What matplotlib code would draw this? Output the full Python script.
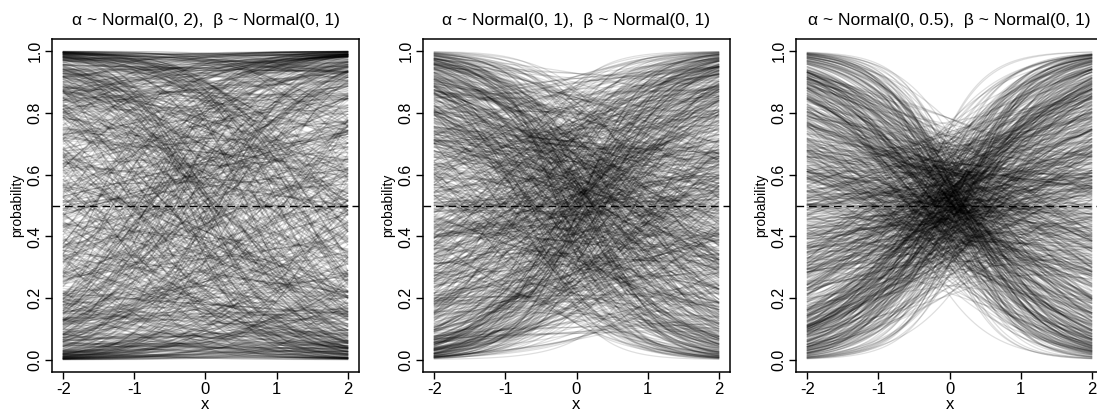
import numpy as np
import matplotlib
matplotlib.use("Agg")
import matplotlib.pyplot as plt

plt.rcParams['font.family'] = ['Liberation Sans', 'DejaVu Sans']

# prior scales per panel
alpha_sd = [2, 1, 0.5]
beta_sd = [1, 1, 1]
titles = [r"α ~ Normal(0, 2),  β ~ Normal(0, 1)",
          r"α ~ Normal(0, 1),  β ~ Normal(0, 1)",
          r"α ~ Normal(0, 0.5),  β ~ Normal(0, 1)"]

# standardised prior draws (typical values, shared by the panels)
z_alpha = [
    0.63, -1.21, 0.18, 1.94, -0.45, -0.07, 0.88, -1.67, 0.32, 1.12, -0.79, 0.05, -2.31, 0.71, -0.26,
    1.45, -0.58, 0.94, -0.13, -1.03, 0.41, 2.17, -0.36, 0.22, -1.48, 0.66, -0.91, 1.28, 0.09, -0.54,
    -0.19, 1.73, -1.12, 0.47, -0.02, 0.83, -1.86, 0.29, 1.06, -0.67, 0.14, -0.41, 2.56, -0.84, 0.57,
    0.36, -1.34, 0.02, 1.51, -0.23, -0.72, 0.99, -1.59, 0.26, -0.11, 1.18, -0.49, 0.77, -2.02, 0.44,
    -0.31, 0.61, -0.96, 1.37, -0.05, 0.19, -1.27, 0.87, -0.63, 0.12, 1.82, -0.38, -0.15, 1.01, -1.74,
    0.53, -0.87, 0.24, -0.28, 1.62, -1.09, 0.38, 0.07, -0.52, 2.34, -0.69, 0.16, -1.41, 0.92, -0.09,
    1.23, -0.33, 0.58, -1.97, 0.31, -0.76, 0.03, 1.09, -0.44, 0.69, -1.15, 0.46, -0.21, 1.56, -0.61,
    -0.04, 0.81, -1.53, 0.27, -0.93, 1.31, 0.11, -0.37, 0.74, -2.66, 0.35, -0.17, 1.14, -0.82, 0.49,
    0.21, -1.06, 0.64, -0.25, 1.69, -0.56, 0.08, -1.31, 0.97, -0.12, 0.42, -0.74, 2.08, -0.47, 0.15,
    -0.65, 1.04, -0.29, 0.55, -1.62, 0.33, -0.01, 0.86, -1.19, 0.23, 1.42, -0.89, 0.06, -0.35, 0.78,
]
z_beta = [
    -0.42, 1.16, -0.08, 0.73, -1.55, 0.27, -0.94, 1.88, 0.04, -0.61, 0.39, -1.23, 0.95, -0.18, 2.21,
    0.58, -0.33, -1.71, 0.13, 1.07, -0.52, 0.84, -2.14, 0.31, -0.06, 1.39, -0.77, 0.19, -1.02, 0.66,
    1.52, -0.27, 0.44, -0.86, 0.01, -1.38, 0.97, 0.23, -0.49, 1.79, -0.14, 0.62, -1.93, 0.37, -0.71,
    -0.11, 0.89, -1.44, 0.52, 2.43, -0.39, 0.16, -0.81, 1.24, -0.23, 0.47, -1.14, 0.08, 0.76, -1.66,
    0.34, -0.58, 1.61, -0.03, -0.97, 0.69, -0.31, 1.33, -1.28, 0.12, -0.45, 0.91, -2.37, 0.28, 1.11,
    -0.69, 0.06, 0.79, -1.49, 0.41, 1.97, -0.16, -0.88, 0.55, -0.36, 1.27, 0.03, -1.08, 0.64, -0.21,
    0.17, -1.81, 0.48, 1.02, -0.54, -0.09, 0.86, -1.19, 0.32, 1.58, -0.66, 0.25, -0.38, 2.02, -0.83,
    0.93, -0.13, -1.33, 0.59, 0.09, -0.74, 1.44, -0.26, 0.71, -1.58, 0.21, -0.47, 1.19, -0.99, 0.36,
    -0.57, 1.68, 0.14, -0.28, -1.12, 0.81, -0.04, 0.51, -2.58, 0.43, 1.09, -0.62, 0.26, -0.17, 1.36,
    0.02, -0.91, 0.67, -1.41, 0.18, 0.98, -0.34, 1.74, -0.79, 0.29, -0.12, 0.57, -1.26, 0.83, -0.46,
]

x_ticks = [-2, -1, 0, 1, 2]
y_ticks = [0.0, 0.2, 0.4, 0.6, 0.8, 1.0]

x = np.linspace(-2, 2, 200)
za = np.array(z_alpha)
zb = np.array(z_beta)

fig = plt.figure(figsize=(10.97, 4.16), dpi=100)
lefts = [52, 423, 796]
for p in range(3):
    ax = fig.add_axes([lefts[p] / 1097, 44 / 416, 307 / 1097, 333 / 416])
    # pair the draws a few ways to get many curves
    for za_, zb_ in [(za, zb), (zb, za)]:
        a = alpha_sd[p] * za_
        for shift in [0, 50, 100]:
            b = beta_sd[p] * np.roll(zb_, shift + 11 * p)
            prob = 1 / (1 + np.exp(-(a[:, None] + b[:, None] * x[None, :])))
            for row in prob:
                ax.plot(x, row, color='black', alpha=0.13, lw=0.9)
    ax.axhline(0.5, color='black', lw=1.0, ls=(0, (5.5, 3.5)))
    ax.set_xlim(-2.16, 2.16)
    ax.set_ylim(-0.04, 1.04)
    ax.set_xticks(x_ticks)
    ax.set_xticklabels([str(t) for t in x_ticks])
    ax.set_yticks(y_ticks)
    ax.set_yticklabels([f"{t:.1f}" for t in y_ticks], rotation=90, va='center')
    ax.tick_params(direction='out', length=5, width=1, labelsize=12, pad=2)
    ax.tick_params(axis='y', labelsize=11.5)
    for s in ax.spines.values():
        s.set_linewidth(1.1)
    ax.set_title(titles[p], fontsize=12.5, pad=10)
    ax.set_xlabel('x', fontsize=12, labelpad=0)
    ax.set_ylabel('probability', fontsize=10, labelpad=2)

fig.savefig('out.png', dpi=100, facecolor='white')
